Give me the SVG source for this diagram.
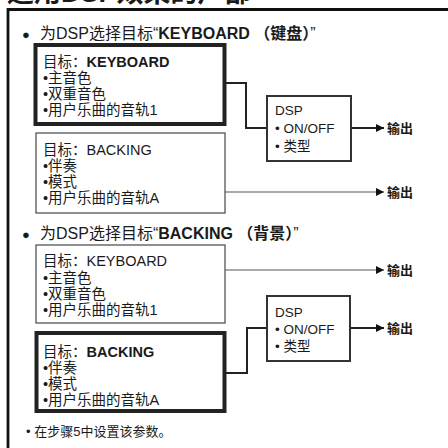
<svg xmlns="http://www.w3.org/2000/svg" width="448" height="448" viewBox="0 0 448 448">
<defs>
<style>
text{font-family:"Liberation Sans","Noto Sans CJK SC",sans-serif;fill:#1a1a1a;}
.t{font-size:14.5px;}
.d{font-size:13.5px;}
.h{font-size:16px;}
.b{font-weight:bold;}
.o{font-size:13px;font-weight:bold;}
.f{font-size:13px;}
.thick{fill:#fff;stroke:#222;stroke-width:4;}
.thin{fill:#fff;stroke:#555;stroke-width:1.3;}
.dsp{fill:#fff;stroke:#333;stroke-width:2;}
.c{fill:none;stroke:#222;stroke-width:2;}
.cl{fill:none;stroke:#555;stroke-width:1.2;}
</style>
<marker id="ar" viewBox="0 0 8 8" refX="8" refY="4" markerWidth="8" markerHeight="8" markerUnits="userSpaceOnUse" orient="auto">
<path d="M0,0 L8,4 L0,8 Z" fill="#111"/>
</marker>
</defs>
<rect width="448" height="448" fill="#fff"/>
<text x="7" y="2" font-size="27" class="b">适用DSP效果的声部</text>
<path d="M8,448 V9.5 H448" fill="none" stroke="#111" stroke-width="2.8"/>

<text x="22" y="39" class="h"><tspan font-size="13">●</tspan><tspan x="40">为DSP选择目标“</tspan><tspan class="b">KEYBOARD （键盘）</tspan>”</text>

<g id="connectors">
<path class="c" d="M225,83 H246 V128 H267"/>
<path class="c" d="M351,128 H384" marker-end="url(#ar)"/>
<path class="cl" d="M225,192 H384" marker-end="url(#ar)"/>
<path class="cl" d="M225,270 H384" marker-end="url(#ar)"/>
<path class="c" d="M225,373 H247 V328 H267"/>
<path class="c" d="M350,328 H384" marker-end="url(#ar)"/>
</g>

<g id="kb1">
<rect class="thick" x="35.5" y="45" width="189" height="79"/>
<text x="43" y="67" class="t">目标：<tspan class="b">KEYBOARD</tspan></text>
<text x="43" y="83" class="t">•主音色</text>
<text x="43" y="99" class="t">•双重音色</text>
<text x="43" y="115" class="t">•用户乐曲的音轨1</text>
</g>

<g id="bk1">
<rect class="thin" x="36" y="133" width="189" height="80"/>
<text x="43" y="155" class="t">目标：BACKING</text>
<text x="43" y="171" class="t">•伴奏</text>
<text x="43" y="187" class="t">•模式</text>
<text x="43" y="203" class="t">•用户乐曲的音轨A</text>
</g>

<g id="dsp1">
<rect class="dsp" x="267" y="96" width="84" height="65"/>
<text x="275" y="115" class="d">DSP</text>
<text x="275" y="133" class="d">• ON/OFF</text>
<text x="275" y="151" class="d">• 类型</text>
</g>

<g id="out1"><text x="387" y="133" class="o">输出</text></g>
<g id="out2"><text x="387" y="197" class="o">输出</text></g>

<text x="22" y="239" class="h"><tspan font-size="13">●</tspan><tspan x="40">为DSP选择目标“</tspan><tspan class="b">BACKING （背景）</tspan>”</text>

<g id="kb2">
<rect class="thin" x="36" y="245" width="189" height="78"/>
<text x="43" y="266" class="t">目标：KEYBOARD</text>
<text x="43" y="283" class="t">•主音色</text>
<text x="43" y="299" class="t">•双重音色</text>
<text x="43" y="315" class="t">•用户乐曲的音轨1</text>
</g>

<g id="out3"><text x="387" y="275" class="o">输出</text></g>

<g id="bk2">
<rect class="thick" x="36.5" y="333" width="188" height="78"/>
<text x="43" y="357" class="t">目标：<tspan class="b">BACKING</tspan></text>
<text x="43" y="373" class="t">•伴奏</text>
<text x="43" y="389" class="t">•模式</text>
<text x="43" y="405" class="t">•用户乐曲的音轨A</text>
</g>

<g id="dsp2">
<rect class="dsp" x="267" y="296" width="83" height="65"/>
<text x="275" y="317" class="d">DSP</text>
<text x="275" y="334" class="d">• ON/OFF</text>
<text x="275" y="351" class="d">• 类型</text>
</g>

<g id="out4"><text x="387" y="333" class="o">输出</text></g>

<text x="26" y="436" class="f">• 在步骤5中设置该参数。</text>
</svg>
